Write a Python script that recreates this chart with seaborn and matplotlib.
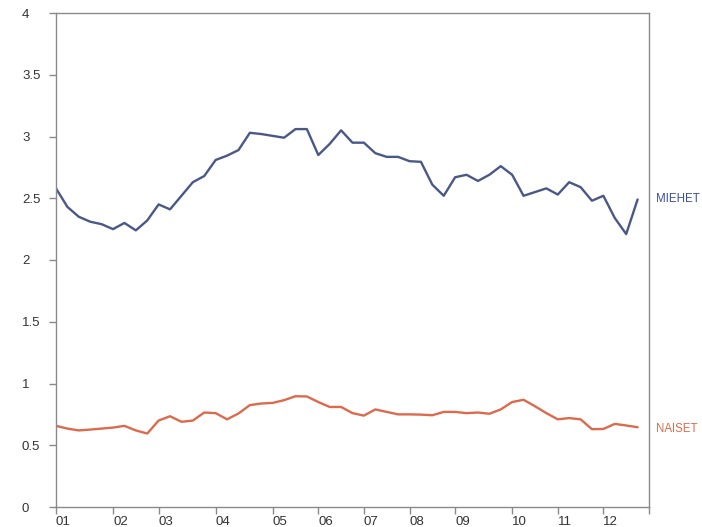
import matplotlib
matplotlib.use("Agg")
import matplotlib.pyplot as plt
import seaborn as sns
import pandas as pd

## Data (quarterly-ish observations, 2001 -> 2012)
miehet = [2.58, 2.43, 2.35, 2.31, 2.29, 2.25, 2.30, 2.24, 2.32, 2.45,
          2.41, 2.52, 2.63, 2.68, 2.81, 2.845, 2.89, 3.03, 3.02, 3.005,
          2.99, 3.06, 3.06, 2.85, 2.94, 3.05, 2.95, 2.95, 2.865, 2.835,
          2.835, 2.80, 2.795, 2.61, 2.52, 2.67, 2.69, 2.64, 2.69, 2.76,
          2.69, 2.52, 2.55, 2.58, 2.53, 2.63, 2.59, 2.48, 2.52, 2.34,
          2.21, 2.49]
naiset = [0.657, 0.635, 0.62, 0.627, 0.635, 0.643, 0.657, 0.62, 0.595, 0.70,
          0.735, 0.69, 0.70, 0.765, 0.76, 0.71, 0.757, 0.825, 0.838, 0.843,
          0.865, 0.897, 0.895, 0.85, 0.81, 0.81, 0.76, 0.74, 0.79, 0.77,
          0.75, 0.75, 0.748, 0.743, 0.77, 0.77, 0.76, 0.765, 0.755, 0.79,
          0.85, 0.868, 0.816, 0.76, 0.71, 0.72, 0.71, 0.63, 0.632, 0.673,
          0.66, 0.646]
year_labels = ["01", "02", "03", "04", "05", "06", "07", "08", "09", "10", "11", "12"]
year_start_idx = [0, 5, 9, 14, 19, 23, 27, 31, 35, 40, 44, 48]

blue = "#4a5888"
blue_text = "#3a4f9c"
red = "#dc6a4c"
frame_grey = "#8a8a8a"
text_grey = "#333333"

df = pd.DataFrame({"idx": range(len(miehet)), "MIEHET": miehet, "NAISET": naiset})

## Setup
sns.set_theme(style="white")
plt.rcParams["font.family"] = ["Liberation Sans", "DejaVu Sans"]
fig = plt.figure(figsize=(7.02, 5.27), dpi=100)
ax = fig.add_axes([56 / 702, 20 / 527, 593 / 702, 494 / 527])

## Plot
sns.lineplot(data=df, x="idx", y="MIEHET", ax=ax, color=blue, lw=1.7)
sns.lineplot(data=df, x="idx", y="NAISET", ax=ax, color=red, lw=1.7)

## Axes
ax.set_xlim(0, len(miehet))
ax.set_ylim(0, 4)
ax.set_xlabel("")
ax.set_ylabel("")
ax.set_yticks([0, 0.5, 1, 1.5, 2, 2.5, 3, 3.5, 4])
ax.set_yticklabels(["0", "0.5", "1", "1.5", "2", "2.5", "3", "3.5", "4"])
ax.set_xticks(year_start_idx + [len(miehet)])
ax.set_xticklabels(year_labels + [""])

for side in ["left", "right", "top", "bottom"]:
    ax.spines[side].set_color(frame_grey)
    ax.spines[side].set_linewidth(1.0)

ax.tick_params(axis="y", direction="out", length=5, width=1, color=frame_grey,
               labelcolor=text_grey, labelsize=9.5, pad=19.5, left=True)
ax.tick_params(axis="x", direction="out", length=5, width=1, color=frame_grey,
               labelcolor=text_grey, labelsize=9.5, pad=1.5, bottom=True)
for lab in ax.get_yticklabels():
    lab.set_horizontalalignment("left")
for lab in ax.get_xticklabels():
    lab.set_horizontalalignment("left")

## Series labels
ax.text(1.011, 2.49, "MIEHET", transform=ax.get_yaxis_transform(),
        ha="left", va="center", fontsize=8.3, color=blue_text)
ax.text(1.011, 0.63, "NAISET", transform=ax.get_yaxis_transform(),
        ha="left", va="center", fontsize=8.3, color=red)

fig.savefig("out.png", dpi=100)
